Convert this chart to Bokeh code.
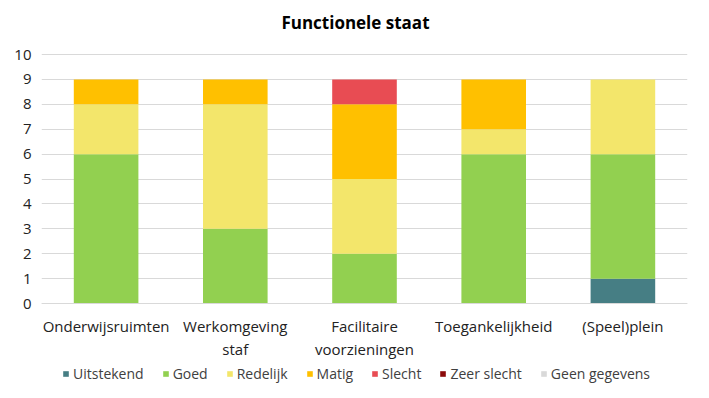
from bokeh.plotting import figure
from bokeh.models import Legend, Range1d, FixedTicker, Label
from bokeh.embed import file_html
from bokeh.resources import INLINE

title_text = "Functionele staat"
categories = ["Onderwijsruimten", "Werkomgeving\nstaf", "Facilitaire\nvoorzieningen", "Toegankelijkheid", "(Speel)plein"]
series = ["Uitstekend", "Goed", "Redelijk", "Matig", "Slecht", "Zeer slecht", "Geen gegevens"]
y_ticks = [0, 1, 2, 3, 4, 5, 6, 7, 8, 9, 10]
uitstekend = [0, 0, 0, 0, 1]
goed = [6, 3, 2, 6, 5]
redelijk = [2, 5, 3, 1, 3]
matig = [1, 1, 3, 2, 0]
slecht = [0, 0, 1, 0, 0]
zeer_slecht = [0, 0, 0, 0, 0]
geen_gegevens = [0, 0, 0, 0, 0]
colors = ["#467E84", "#92D050", "#F3E66B", "#FFC000", "#E84C53", "#8B0A0A", "#D9D9D9"]

data = {"cat": categories, "Uitstekend": uitstekend, "Goed": goed, "Redelijk": redelijk,
        "Matig": matig, "Slecht": slecht, "Zeer slecht": zeer_slecht, "Geen gegevens": geen_gegevens}

FONT = "Open Sans"

# frame extends above and below the value axis to hold the title, tick labels and legend
p = figure(x_range=categories, frame_width=646, frame_height=387, output_backend="svg",
           toolbar_location=None)
p.y_range = Range1d(-3.37, 12.17)

renderers = p.vbar_stack(series, x="cat", width=0.5, color=colors, source=data, line_width=0)

p.add_layout(Label(x=2.43, y=11.29, text=title_text, text_align="center", text_baseline="middle",
                   text_font=FONT, text_font_size="17px", text_font_style="bold",
                   text_color="#000000"))

p.yaxis.ticker = FixedTicker(ticks=y_ticks)
p.ygrid.grid_line_color = "#D9D9D9"
p.xgrid.grid_line_color = None
p.yaxis.axis_line_color = None
p.yaxis.major_tick_line_color = None
p.yaxis.minor_tick_line_color = None
p.xaxis.fixed_location = 0
p.xaxis.axis_line_color = "#D9D9D9"
p.xaxis.major_tick_line_color = None
p.xaxis.minor_tick_line_color = None
for ax in (p.xaxis, p.yaxis):
    ax.major_label_text_font = FONT
    ax.major_label_text_font_size = "15px"
    ax.major_label_text_color = "#222222"
p.xaxis.major_label_text_line_height = 1.15
p.yaxis.major_label_standoff = 4
p.xaxis.major_label_standoff = 6
p.outline_line_color = None
p.x_range.range_padding = 0.0

legend = Legend(items=[(s, [r]) for s, r in zip(series, renderers)], orientation="horizontal",
                location=(21, 4), label_text_font=FONT, label_text_font_size="14px",
                label_text_color="#404040", glyph_width=7, glyph_height=7, spacing=18,
                label_standoff=4, border_line_color=None, background_fill_alpha=0,
                padding=0, margin=0, label_height=18)
p.add_layout(legend, "center")

p.min_border_left = 41
p.min_border_right = 6
p.min_border_top = 0
p.min_border_bottom = 0

open("out.html", "w").write(file_html(p, INLINE))
